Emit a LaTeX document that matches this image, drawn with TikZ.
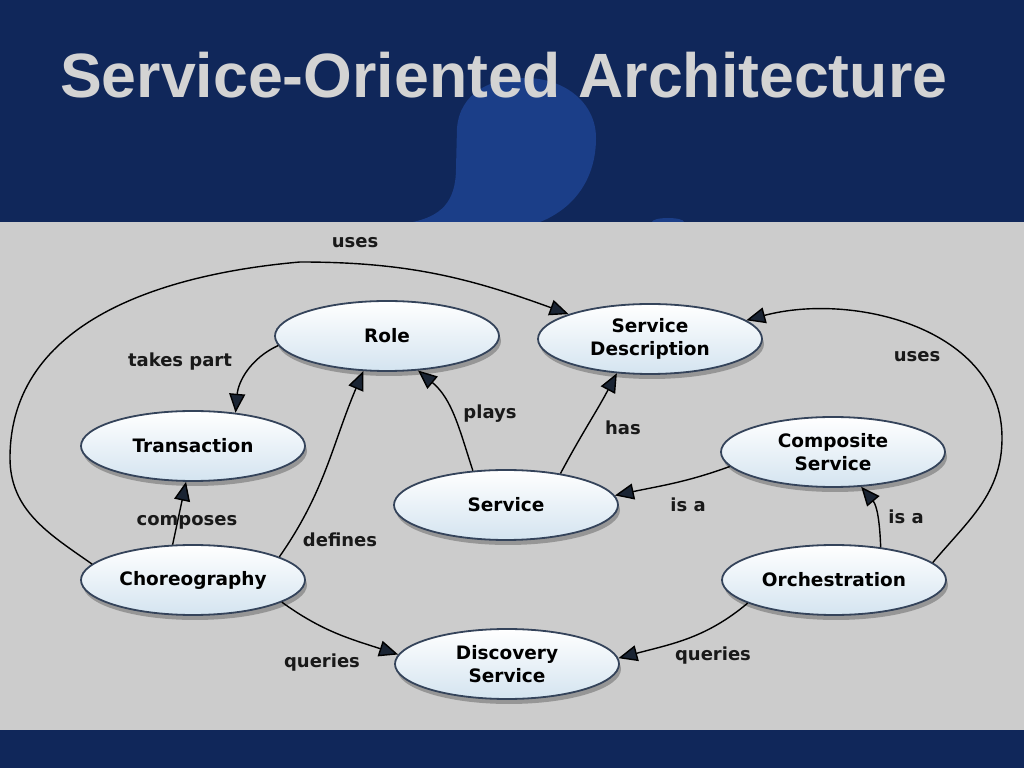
\documentclass[tikz,border=0pt]{standalone}
\usepackage{fontspec}
\setmainfont{DejaVu Sans}
\newfontfamily\titlefont{Liberation Sans}
\usetikzlibrary{shapes.geometric,arrows.meta,shadows}

\definecolor{navy}{HTML}{10275A}
\definecolor{panel}{HTML}{CCCCCC}
\definecolor{blob}{HTML}{1B3E88}
\definecolor{rim}{HTML}{34435A}
\definecolor{paleblue}{HTML}{D4E4F0}
\definecolor{titlegray}{HTML}{D3D3D3}
\definecolor{tipcolor}{HTML}{1A2433}

\tikzset{
  concept/.style={ellipse, minimum width=224pt, minimum height=70pt, inner sep=0pt,
    draw=rim, line width=1.8pt, top color=white, bottom color=paleblue,
    drop shadow={shadow xshift=2pt, shadow yshift=-5pt, opacity=0.35, fill=black!80},
    font=\fontsize{18.5}{23}\selectfont\bfseries, text=black, align=center},
  rel/.style={draw=black, line width=1.4pt,
    -{Triangle[length=19pt,width=16pt,fill=tipcolor]}},
  rellabel/.style={font=\fontsize{18}{22}\selectfont\bfseries, text=black!90, inner sep=1pt},
}

\begin{document}
\begin{tikzpicture}[x=1pt,y=1pt]
\useasboundingbox (0,0) rectangle (1024,768);
            % Background
\fill[navy] (0,0) rectangle (1024,768);
\fill[blob] (413,546) .. controls (440,552) and (456,565) .. (456,600) -- (457,640)
  .. controls (460,675) and (490,690) .. (525,690)
  .. controls (565,690) and (596,665) .. (596,630)
  .. controls (596,590) and (575,560) .. (540,546) -- cycle;
\fill[blob] (668,546) ellipse (16 and 4);
\fill[panel] (0,38) rectangle (1024,546);
\node[anchor=base west, inner sep=0pt, text=titlegray, font=\titlefont\fontsize{62.6}{70}\selectfont\bfseries]
  (title) at (60,670) {Service-Oriented Architecture};
            % Concepts
\node[concept] (role) at (387,432) {Role};
\node[concept] (sdesc) at (650,429) {Service\\Description};
\node[concept] (trans) at (193,322) {Transaction};
\node[concept] (service) at (506,263) {Service};
\node[concept] (comp) at (833,316) {Composite\\Service};
\node[concept] (chor) at (193,188) {Choreography};
\node[concept] (orch) at (834,188) {Orchestration};
\node[concept] (disc) at (507,104) {Discovery\\Service};
%Relations
\draw[rel] (chor.171) to[out=145,in=-90] (10,310) to[out=90,in=185] (300,506)
  to[out=0,in=160] (sdesc.163);
\draw[rel] (role.185) to[out=205,in=85] (trans.38);
\draw[rel] (chor.120) -- (trans.259);
\draw[rel] (chor.15) to[out=55,in=247] (role.236);
\draw[rel] (service.134) to[out=108,in=-40] (role.-48);
\draw[rel] (service.30) to[out=62,in=-118] (sdesc.226);
\draw[rel] (comp.188) to[out=200,in=12] (service.5);
\draw[rel] (orch.35) to[out=92,in=-50] (comp.-51);
\draw[rel] (orch.10) to[out=50,in=-90] (1002,330) to[out=90,in=15] (sdesc.11);
\draw[rel] (chor.-14) to[out=-36,in=162] (disc.175);
\draw[rel] (orch.195) to[out=220,in=15] (disc.3);
%Relation labels
\node[rellabel] (lblusesl) at (355,525) {uses};
\node[rellabel] (lbltakes) at (180,406) {takes part};
\node[rellabel] (lblcomposes) at (187,246) {composes};
\node[rellabel] (lbldefines) at (340,228) {defines};
\node[rellabel] (lblplays) at (490,354) {plays};
\node[rellabel] (lblhas) at (623,340) {has};
\node[rellabel] (lblisaservice) at (688,263) {is a};
\node[rellabel] (lblisacomp) at (906,251) {is a};
\node[rellabel] (lblusesr) at (917,411) {uses};
\node[rellabel] (lblqueriesl) at (322,105) {queries};
\node[rellabel] (lblqueriesr) at (713,112) {queries};

          \end{tikzpicture}
\end{document}
